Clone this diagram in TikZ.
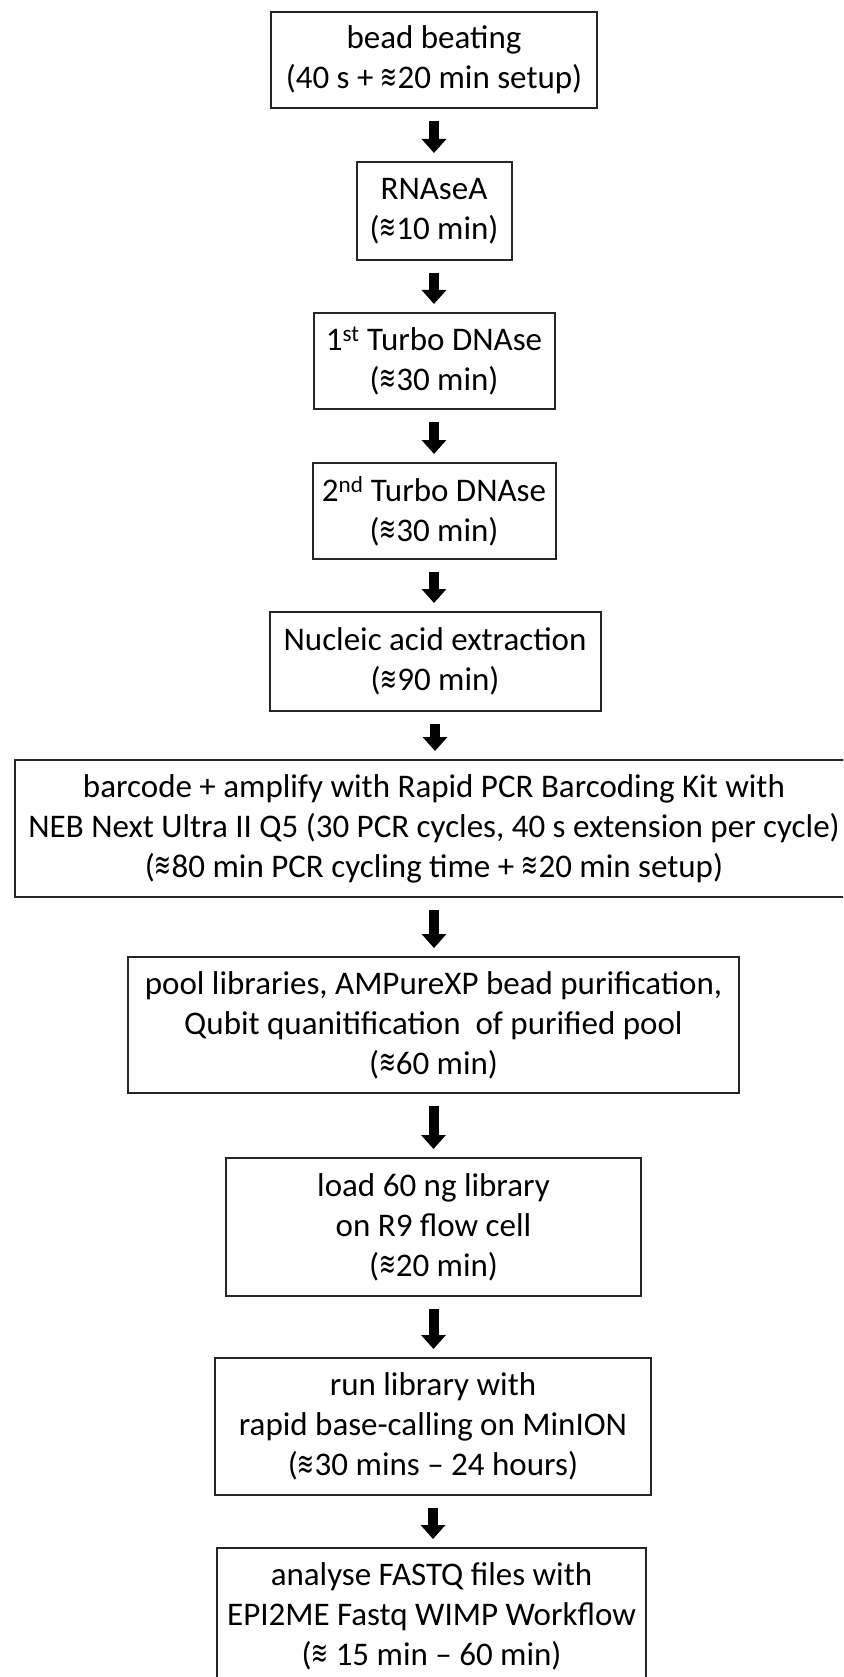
\documentclass[tikz,border=0pt]{standalone}
\usepackage{fontspec}
\setmainfont{Carlito}
\newfontfamily\symfnt{DejaVu Sans}
\usetikzlibrary{arrows.meta}
\newcommand\aprx{\raisebox{0.02em}{\scalebox{0.8}[1.3]{\symfnt\fontsize{25}{25}\selectfont ≋}}}
\begin{document}
\begin{tikzpicture}[x=1pt,y=-1pt,
  box/.style={draw=black!85, line width=2pt, align=center, inner sep=0pt,
    font=\fontsize{33}{40}\selectfont, text=black},
  flow/.style={-{Triangle[width=24pt,length=14pt]}, line width=10pt,
    shorten <=12pt, shorten >=8pt}]
\useasboundingbox (0,0) rectangle (843,1677);
\clip (0,0) rectangle (843,1677);
\node[box, minimum width=326pt, minimum height=96pt] (b1) at (434,60)
  {bead beating\\(40 s + \aprx20 min setup)};
\node[box, minimum width=155pt, minimum height=98pt] (b2) at (434,211)
  {RNAseA\\(\aprx10 min)};
\node[box, minimum width=241pt, minimum height=96pt] (b3) at (434,361)
  {1\textsuperscript{st} Turbo DNAse\\(\aprx30 min)};
\node[box, minimum width=243pt, minimum height=96pt] (b4) at (434,511)
  {2\textsuperscript{nd} Turbo DNAse\\(\aprx30 min)};
\node[box, minimum width=331pt, minimum height=99pt] (b5) at (435,661.5)
  {Nucleic acid extraction\\(\aprx90 min)};
\node[box, minimum width=838pt, minimum height=137pt] (b6) at (434,828.5)
  {barcode + amplify with Rapid PCR Barcoding Kit with\\NEB Next Ultra II Q5 (30 PCR cycles, 40 s extension per cycle)\\(\aprx80 min PCR cycling time + \aprx20 min setup)};
\node[box, minimum width=611pt, minimum height=136pt] (b7) at (433.5,1025)
  {pool libraries, AMPureXP bead purification,\\Qubit quanitification\ \ of purified pool\\(\aprx60 min)};
\node[box, minimum width=415pt, minimum height=138pt] (b8) at (433.5,1227)
  {load 60 ng library\\on R9 flow cell\\(\aprx20 min)};
\node[box, minimum width=436pt, minimum height=137pt] (b9) at (433,1426.5)
  {run library with\\rapid base-calling on MinION\\(\aprx30 mins – 24 hours)};
\node[box, minimum width=429pt, minimum height=136pt] (b10) at (431.5,1616)
  {analyse FASTQ files with\\EPI2ME Fastq WIMP Workflow\\(\aprx\ 15 min – 60 min)};
\draw[flow] (b1.south) -- (b1.south |- b2.north);
\draw[flow] (b2.south) -- (b2.south |- b3.north);
\draw[flow] (b3.south) -- (b3.south |- b4.north);
\draw[flow] (b4.south) -- (b4.south |- b5.north);
\draw[flow] (b5.south) -- (b5.south |- b6.north);
\draw[flow] (b6.south) -- (b6.south |- b7.north);
\draw[flow] (b7.south) -- (b7.south |- b8.north);
\draw[flow] (b8.south) -- (b8.south |- b9.north);
\draw[flow] (b9.south) -- (b9.south |- b10.north);
\end{tikzpicture}
\end{document}
